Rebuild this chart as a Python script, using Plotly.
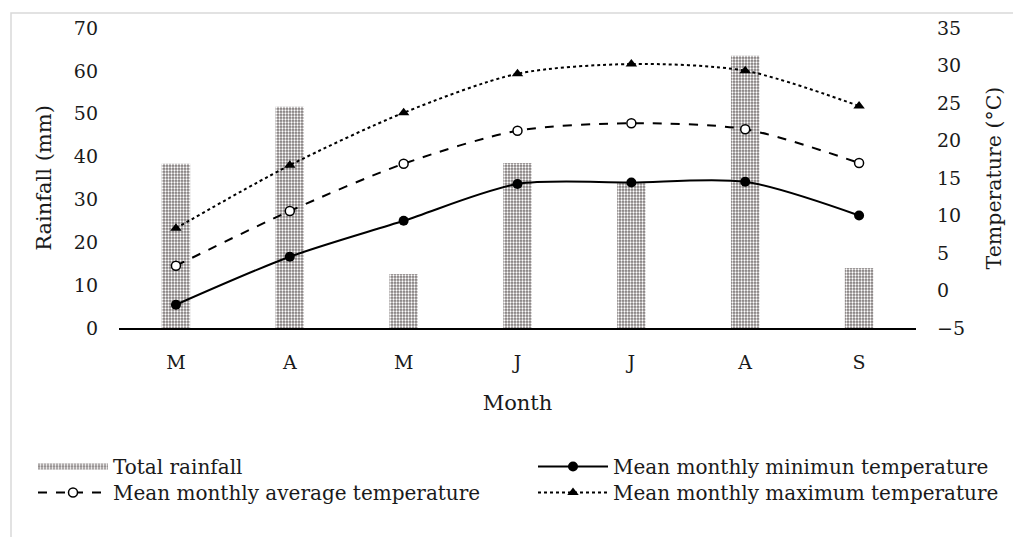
import plotly.graph_objects as go

months = ["M", "A", "M", "J", "J", "A", "S"]
rainfall = [38.3, 51.6, 12.6, 38.5, 33.8, 63.5, 14.0]
t_min = [-1.9, 4.5, 9.3, 14.2, 14.4, 14.5, 10.0]
t_avg = [3.3, 10.6, 16.9, 21.3, 22.3, 21.5, 17.0]
t_max = [8.3, 16.7, 23.7, 28.9, 30.2, 29.3, 24.6]

x = list(range(len(months)))
FONT = "DejaVu Serif"
TXT = "#1a1a1a"
BAR_BG = "#7d7777"

# page body has an 8px offset; margins compensate
L, T, PW, PH = 111, 20, 797, 300
W, H = 1021, 537

def px(xs):
    return (xs - 8 - L) / PW

def py(ys):
    return (T + PH - (ys - 8)) / PH

pattern = dict(shape=".", bgcolor=BAR_BG, fgcolor="white", size=3, solidity=0.45, fillmode="replace")

fig = go.Figure()
fig.add_trace(go.Bar(
    x=x, y=rainfall, name="Total rainfall", width=0.25,
    marker=dict(color=BAR_BG, line=dict(width=0), pattern=pattern),
    yaxis="y", showlegend=False))
# legend swatch for the bars
fig.add_trace(go.Scatter(
    x=[None], y=[None], name="Total rainfall", mode="none", fill="toself",
    fillcolor=BAR_BG, fillpattern=pattern, yaxis="y", legend="legend"))
fig.add_trace(go.Scatter(
    x=x, y=t_min, name="Mean monthly minimun temperature", mode="lines+markers",
    line=dict(color="black", width=2, shape="spline", smoothing=0.8),
    marker=dict(symbol="circle", size=10, color="black"), yaxis="y2", legend="legend2"))
fig.add_trace(go.Scatter(
    x=x, y=t_avg, name="Mean monthly average temperature", mode="lines+markers",
    line=dict(color="black", width=2, dash="dash", shape="spline", smoothing=0.8),
    marker=dict(symbol="circle", size=9, color="white", line=dict(color="black", width=1.5)),
    yaxis="y2", legend="legend3"))
fig.add_trace(go.Scatter(
    x=x, y=t_max, name="Mean monthly maximum temperature", mode="lines+markers",
    line=dict(color="black", width=2, dash="dot", shape="spline", smoothing=0.8),
    marker=dict(symbol="triangle-up", size=10, color="black"), yaxis="y2", legend="legend4"))

legend_common = dict(orientation="v", xanchor="left", yanchor="top", itemwidth=70,
                     font=dict(family=FONT, size=20, color=TXT), tracegroupgap=0,
                     traceorder="normal", bgcolor="rgba(0,0,0,0)")

ROW1, ROW2 = 447, 473
fig.update_layout(
    width=W, height=H,
    margin=dict(l=L, r=W - L - PW, t=T, b=H - T - PH),
    paper_bgcolor="white", plot_bgcolor="white",
    font=dict(family=FONT, size=19, color=TXT),
    showlegend=True,
    legend=dict(x=px(33), y=py(ROW1), **legend_common),
    legend2=dict(x=px(533), y=py(ROW1), **legend_common),
    legend3=dict(x=px(33), y=py(ROW2), **legend_common),
    legend4=dict(x=px(533), y=py(ROW2), **legend_common),
    xaxis=dict(range=[-0.5, 6.5], tickmode="array", tickvals=x, ticktext=months,
               showgrid=False, showline=True, linecolor="black", linewidth=2,
               ticks="", zeroline=False, automargin=False, ticklabelstandoff=16,
               title=dict(text="Month", font=dict(family=FONT, size=21), standoff=24)),
    yaxis=dict(range=[0, 70], dtick=10, showgrid=False, zeroline=False, showline=False,
               ticks="", ticklabelstandoff=20, automargin=False,
               title=dict(text="Rainfall (mm)", font=dict(family=FONT, size=21), standoff=16)),
    yaxis2=dict(range=[-5, 35], dtick=5, overlaying="y", side="right", showgrid=False,
                zeroline=False, showline=False, ticks="", ticklabelstandoff=20, automargin=False,
                title=dict(text="Temperature (°C)", font=dict(family=FONT, size=20.5), standoff=22)),
    shapes=[dict(type="rect", xref="paper", yref="paper",
                 x0=px(11), x1=px(1045), y0=py(13), y1=py(560),
                 line=dict(color="#d9d9d9", width=1.5), fillcolor="rgba(0,0,0,0)", layer="below")],
)

fig.write_html("out.html")
